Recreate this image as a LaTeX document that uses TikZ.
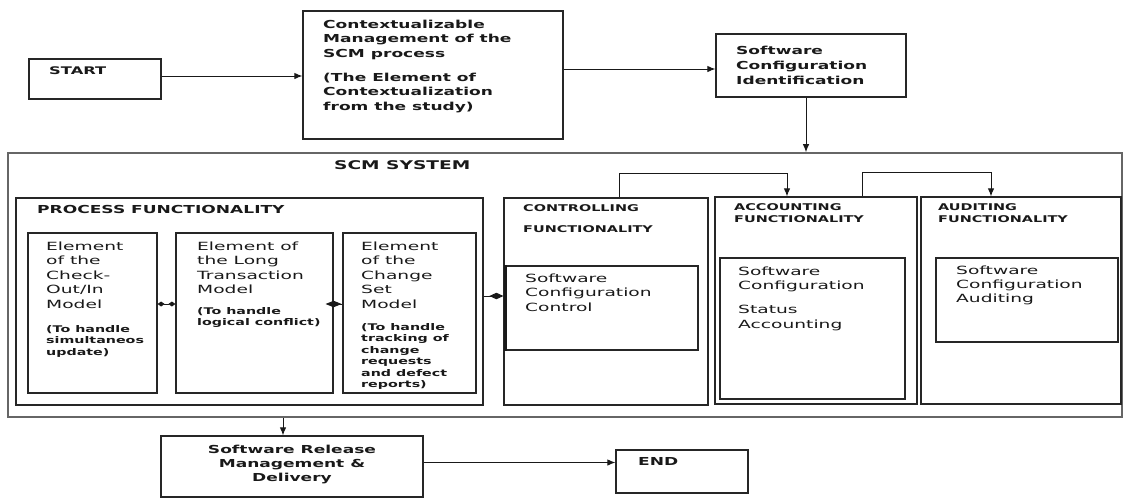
\documentclass[tikz,border=0pt]{standalone}
\usepackage{fontspec}
\usetikzlibrary{arrows.meta}
\newfontfamily\bfnt{DejaVu Sans}[FakeStretch=1.55]
\newfontfamily\rfnt{DejaVu Sans}[FakeStretch=1.65]
\tikzset{
  box/.style={draw=black!85, line width=1.2pt, inner sep=0pt, fill=none},
  outerbox/.style={draw=black!60, line width=1.6pt, inner sep=0pt},
  txt/.style={inner sep=0pt, anchor=base west, align=left, text=black!90},
  bigb/.style={txt, font={\bfnt\bfseries\fontsize{11}{14.5}\selectfont}},
  smallb/.style={txt, font={\bfnt\bfseries\fontsize{9.2}{11.8}\selectfont}},
  headb/.style={txt, font={\bfnt\bfseries\fontsize{9.3}{12}\selectfont}},
  reg/.style={txt, font={\rfnt\fontsize{11.3}{14.5}\selectfont}},
  arr/.style={draw=black!90, line width=1pt, -{Latex[length=8pt,width=6.5pt]}},
  link/.style={draw=black!90, line width=1pt}
}
\begin{document}
\begin{tikzpicture}[x=1pt,y=-1pt]
\useasboundingbox (0,0) rectangle (1124,501);
% boxes
\node[box, minimum width=132pt, minimum height=40pt] (start) at (95,79) {};
\node[box, minimum width=260pt, minimum height=128pt] (context) at (433,75) {};
\node[box, minimum width=190pt, minimum height=63pt] (sci) at (811,65.5) {};
\node[outerbox, minimum width=1114pt, minimum height=264pt] (scm) at (565,285) {};
\node[box, minimum width=467pt, minimum height=207pt] (process) at (249.5,301.5) {};
\node[box, minimum width=129pt, minimum height=160pt] (checkout) at (92.5,313) {};
\node[box, minimum width=157pt, minimum height=160pt] (lt) at (254.5,313) {};
\node[box, minimum width=133pt, minimum height=160pt] (cs) at (409.5,313) {};
\node[box, minimum width=204pt, minimum height=207pt] (ctrl) at (606,301.5) {};
\node[box, minimum width=192pt, minimum height=84pt] (ctrlin) at (602,308) {};
\node[box, minimum width=202pt, minimum height=207pt] (acct) at (816,300.5) {};
\node[box, minimum width=185pt, minimum height=141pt] (acctin) at (812.5,328.5) {};
\node[box, minimum width=200pt, minimum height=207pt] (aud) at (1021,300.5) {};
\node[box, minimum width=182pt, minimum height=84pt] (audin) at (1027,300) {};
\node[box, minimum width=262pt, minimum height=61pt] (release) at (292,466.5) {};
\node[box, minimum width=132pt, minimum height=43pt] (end) at (682,471.5) {};
\draw[black!90, line width=2.2pt] (ctrlin.north west) -- (ctrlin.south west);
% texts (anchor = baseline of the last line)
\node[bigb, font={\bfnt\bfseries\fontsize{10.5}{14.5}\selectfont}] (tstart) at (49,74) {START};
\node[bigb] (tcontext) at (323,110) {Contextualizable\\Management of the\\SCM process\\[9.5pt](The Element of\\Contextualization\\from the study)};
\node[bigb, font={\bfnt\bfseries\fontsize{11}{15}\selectfont}] (tsci) at (736,84) {Software\\Configuration\\Identification};
\node[bigb, font={\bfnt\bfseries\fontsize{12}{14}\selectfont}] (tscm) at (334,169.5) {SCM SYSTEM};
\node[bigb] (tproc) at (37,213) {PROCESS FUNCTIONALITY};
\node[reg] (tco) at (46,308) {Element\\of the\\Check-\\Out/In\\Model};
\node[smallb] (tcos) at (46,355.6) {(To handle\\simultaneos\\update)};
\node[reg] (tlt) at (197,293.5) {Element of\\the Long\\Transaction\\Model};
\node[smallb] (tlts) at (197,325.8) {(To handle\\logical conflict)};
\node[reg] (tcs) at (361,308) {Element\\of the\\Change\\Set\\Model};
\node[smallb, font={\bfnt\bfseries\fontsize{9.2}{11.5}\selectfont}] (tcss) at (361,387.5) {(To handle\\tracking of\\change\\requests\\and defect\\reports)};
\node[headb] (tctrl) at (523,232.5) {CONTROLLING\\[9pt]FUNCTIONALITY};
\node[reg] (tctrlin) at (525,311) {Software\\Configuration\\Control};
\node[headb] (tacct) at (734,222.5) {ACCOUNTING\\FUNCTIONALITY};
\node[reg] (tacctin) at (738,328) {Software\\Configuration\\[9.5pt]Status\\Accounting};
\node[headb] (taud) at (938,222.5) {AUDITING\\FUNCTIONALITY};
\node[reg, font={\rfnt\fontsize{11.3}{14}\selectfont}] (taudin) at (956,302) {Software\\Configuration\\Auditing};
\node[bigb, anchor=base, align=center, font={\bfnt\bfseries\fontsize{11}{14}\selectfont}] (trel) at (292,481) {Software Release\\Management \&\\Delivery};
\node[bigb] (tend) at (638,465) {END};
% connectors
\draw[arr] ([yshift=3pt]start.east) -- ([yshift=3pt]start.east -| context.west);
\draw[arr] ([yshift=-3.5pt]sci.west -| context.east) -- ([yshift=-3.5pt]sci.west);
\draw[arr] ([xshift=-5pt]sci.south) -- ([xshift=-5pt]sci.south |- scm.north);
\draw[arr] ([xshift=13pt]ctrl.north) -- ++(0,-24) -| ([xshift=-29pt]acct.north);
\draw[arr] ([xshift=46pt]acct.north) -- ++(0,-24) -| ([xshift=-30pt]aud.north);
\draw[link, {Diamond[length=7pt,width=5pt]}-{Diamond[length=7pt,width=5pt]}] ([yshift=9pt]checkout.east) -- ([yshift=9pt]lt.west);
\draw[link, {Diamond[length=16pt,width=6.5pt]}-, shorten <=-8pt] ([yshift=9pt]lt.east) -- ([yshift=9pt]cs.west);
\draw[link, -{Diamond[length=14pt,width=6.5pt]}] ([yshift=5.5pt]process.east) -- ([yshift=5.5pt]ctrl.west);
\draw[arr] ([xshift=-9pt]release.north |- scm.south) -- ([xshift=-9pt]release.north);
\draw[arr] ([yshift=9pt]end.west -| release.east) -- ([yshift=9pt]end.west);
\end{tikzpicture}
\end{document}
